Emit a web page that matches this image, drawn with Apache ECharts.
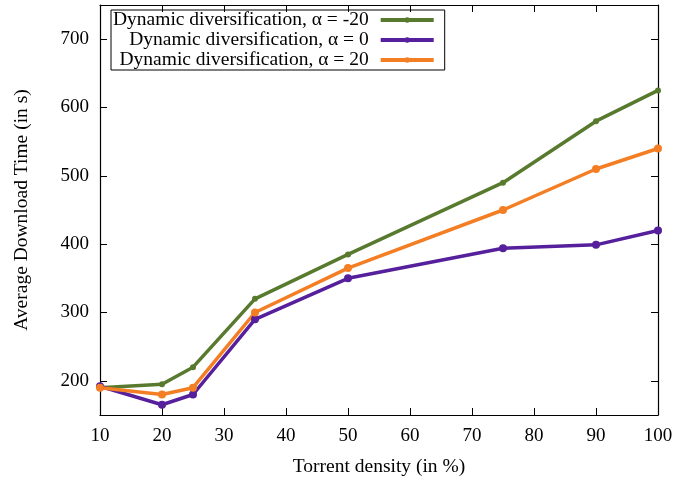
<!DOCTYPE html>
<html><head><meta charset="utf-8">
<script src="https://cdn.jsdelivr.net/npm/echarts@6/dist/echarts.min.js"></script>
<style>html,body{margin:0;padding:0;background:#fff}#c{width:678px;height:482px}</style>
</head><body><div id="c"></div>
<script>
const density = [10, 20, 25, 35, 50, 75, 90, 100];
const alphaMinus20 = [190, 195, 220, 320, 385, 490, 580, 625];
const alpha0 = [192, 165, 180, 290, 350, 394, 399, 420];
const alpha20 = [190, 180, 190, 300, 365, 450, 510, 540];
const yTicks = [200, 300, 400, 500, 600, 700];
const seriesNames = ['Dynamic diversification, \u03b1 = -20', 'Dynamic diversification, \u03b1 = 0', 'Dynamic diversification, \u03b1 = 20'];
const colors = ['#587a2f', '#561f9c', '#f47e24'];
const font = 'Liberation Serif';

function pairs(ys){ return density.map((x,i)=>[x, ys[i]]); }
const axisLineStyle = {show:true, lineStyle:{color:'#000', width:1.2}};
const chart = echarts.init(document.getElementById('c'));
chart.setOption({
  animation:false,
  color: colors,
  grid:{left:100, right:20, top:5, bottom:67},
  legend:{
    left:111, top:10, orient:'vertical', align:'right',
    borderColor:'#000', borderWidth:1, padding:[0,9,0,2], itemGap:0,
    itemWidth:53, itemHeight:7,
    lineStyle:{width:4},
    formatter: n => '{a|' + n + '}',
    textStyle:{fontFamily:font, fontSize:19.5, color:'#000',
      rich:{a:{width:258, height:20, padding:[0,7,0,0], align:'right', fontFamily:font, fontSize:19.5, color:'#000'}}},
    data: seriesNames
  },
  xAxis:[
    {type:'value', min:10, max:100, interval:10, position:'bottom',
      axisLine:axisLineStyle,
      axisTick:{show:true, inside:true, length:7, lineStyle:{color:'#000'}},
      splitLine:{show:false},
      axisLabel:{fontFamily:font, fontSize:19, color:'#000', margin:12},
      name:'Torrent density (in %)', nameLocation:'middle', nameGap:42,
      nameTextStyle:{fontFamily:font, fontSize:19.5, color:'#000'}},
    {type:'value', min:10, max:100, interval:10, position:'top',
      axisLine:axisLineStyle,
      axisTick:{show:true, inside:true, length:7, lineStyle:{color:'#000'}},
      splitLine:{show:false}, axisLabel:{show:false}}
  ],
  yAxis:[
    {type:'value', min:150, max:750, position:'left',
      axisLine:axisLineStyle,
      axisTick:{show:true, inside:true, length:7, lineStyle:{color:'#000'}, customValues:yTicks},
      splitLine:{show:false},
      axisLabel:{fontFamily:font, fontSize:19, color:'#000', margin:11, customValues:yTicks},
      name:'Average Download Time (in s)', nameLocation:'middle', nameGap:68,
      nameTextStyle:{fontFamily:font, fontSize:19.5, color:'#000'}},
    {type:'value', min:150, max:750, position:'right',
      axisLine:axisLineStyle,
      axisTick:{show:true, inside:true, length:7, lineStyle:{color:'#000'}, customValues:yTicks},
      splitLine:{show:false}, axisLabel:{show:false, customValues:yTicks}}
  ],
  series:[
    {name:seriesNames[0], type:'line', data:pairs(alphaMinus20), symbol:'circle', symbolSize:6, lineStyle:{width:3.5}},
    {name:seriesNames[1], type:'line', data:pairs(alpha0), symbol:'circle', symbolSize:8, lineStyle:{width:3.5}},
    {name:seriesNames[2], type:'line', data:pairs(alpha20), symbol:'circle', symbolSize:8, lineStyle:{width:3.5}}
  ]
});
</script></body></html>
